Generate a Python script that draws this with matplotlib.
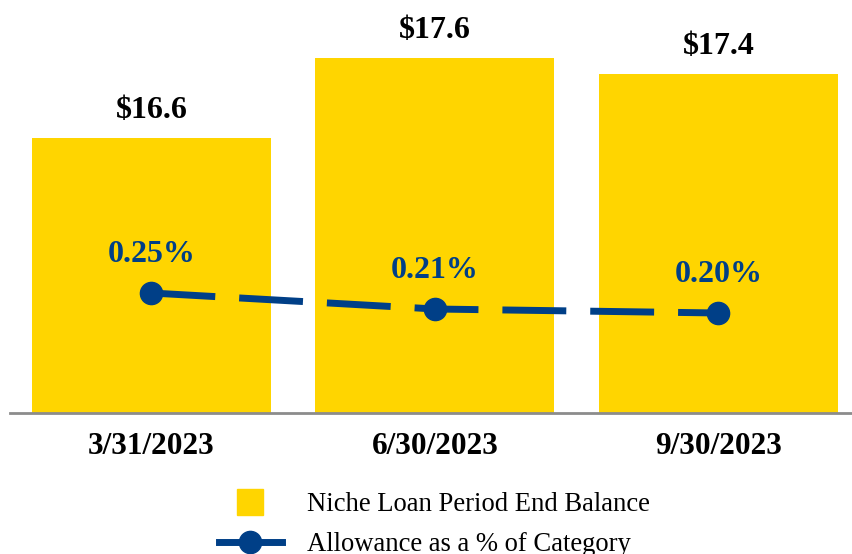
import matplotlib
matplotlib.use("Agg")
import matplotlib.pyplot as plt
from matplotlib.lines import Line2D

categories = ["3/31/2023", "6/30/2023", "9/30/2023"]
balances = [16.6, 17.6, 17.4]
balance_labels = ["$16.6", "$17.6", "$17.4"]
allowance_pct = [0.25, 0.21, 0.20]
allowance_labels = ["0.25%", "0.21%", "0.20%"]

YELLOW = "#FFD500"
BLUE = "#003F87"
SERIF = ["Liberation Serif", "DejaVu Serif"]

W, H = 852, 554
fig = plt.figure(figsize=(W / 100, H / 100), dpi=100)
ax_bottom_px = 413
ax = fig.add_axes([10 / W, 1 - ax_bottom_px / H, (W - 10) / W, ax_bottom_px / H])

x = list(range(len(categories)))
ax.bar(x, balances, width=0.843, color=YELLOW, zorder=1)
ax.set_xlim(-0.499, 2.471)
ax.set_ylim(13.15, 18.33)

for xi, v, lab in zip(x, balances, balance_labels):
    ax.annotate(lab, (xi, v), xytext=(0, 20), textcoords="offset points",
                ha="center", va="center", fontsize=23, fontweight="bold",
                family=SERIF, color="black")

for s in ["top", "right", "left"]:
    ax.spines[s].set_visible(False)
ax.spines["bottom"].set_color("#8C8C8C")
ax.spines["bottom"].set_linewidth(2.0)
ax.set_yticks([])
ax.set_xticks(x)
ax.set_xticklabels(categories, fontsize=22.5, fontweight="bold", family=SERIF)
ax.tick_params(axis="x", length=0, pad=14)

ax2 = ax.twinx()
ax2.set_ylim(-0.05, 0.9825)
ax2.set_yticks([])
for s in ax2.spines.values():
    s.set_visible(False)
ax2.plot(x, allowance_pct, color=BLUE, lw=5, linestyle=(0, (9.2, 3.45)),
         marker="o", markersize=16, zorder=3)
for xi, v, lab in zip(x, allowance_pct, allowance_labels):
    ax2.annotate(lab, (xi, v), xytext=(0, 27.5), textcoords="offset points",
                 ha="center", va="center", fontsize=23, fontweight="bold",
                 family=SERIF, color=BLUE)

handles = [
    Line2D([], [], marker="s", markersize=19.4, color=YELLOW, linestyle="None"),
    Line2D([], [], marker="o", markersize=16, color=BLUE, lw=5),
]
leg = fig.legend(handles, ["Niche Loan Period End Balance", "Allowance as a % of Category"],
                 loc="upper left", bbox_to_anchor=(219 / W, 1 - 492 / H),
                 frameon=False, handlelength=2.36, handletextpad=0.94,
                 labelspacing=0.58, borderpad=0, borderaxespad=0,
                 prop={"family": SERIF, "size": 19.2})

fig.savefig("out.png", dpi=100)
